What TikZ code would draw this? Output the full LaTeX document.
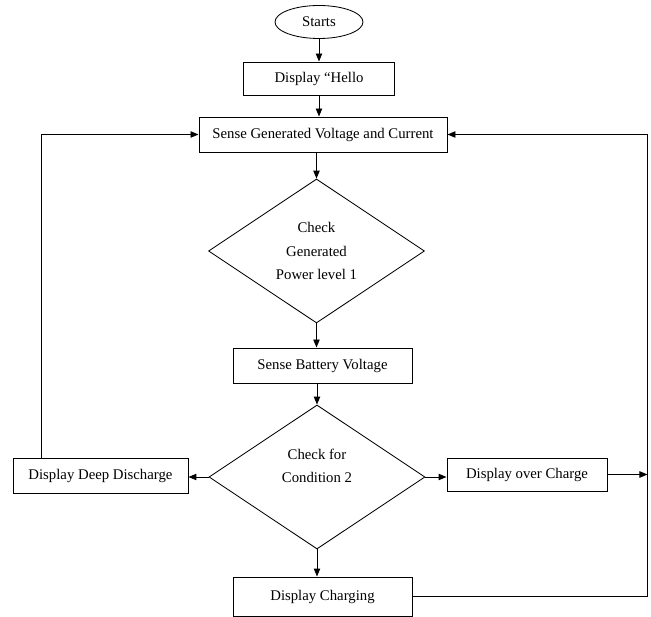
\documentclass[tikz,border=0pt]{standalone}
\usepackage{fontspec}
\setmainfont{Liberation Serif}
\usetikzlibrary{shapes.geometric, positioning, arrows.meta}

\begin{document}
\begin{tikzpicture}[node distance=1.4cm, on grid, >={Triangle[length=2mm,width=1.6mm]},
    every node/.style={font=\fontsize{10.5}{16.5}\selectfont},
    proc/.style={draw, line width=0.7pt, rectangle, minimum height=0.875cm, inner sep=2pt},
    decision/.style={draw, line width=0.6pt, diamond, aspect=1.5, minimum width=5.4cm, minimum height=3.6cm, align=center, inner sep=0pt},
    terminal/.style={draw, line width=0.6pt, ellipse, minimum width=2.2cm, minimum height=0.825cm, inner sep=0pt},
    flow/.style={->, line width=0.7pt}]
      \node[terminal] (start) {Starts};
      \node[proc, minimum width=3.775cm, minimum height=0.825cm, below=1.4125cm of start] (hello) {Display “Hello};
      \node[proc, minimum width=6.2cm, below=1.4cm of hello, xshift=0.1cm] (sense) {Sense Generated Voltage and Current};
      \node[decision, below=2.9125cm of sense, xshift=-0.1625cm] (check1) {Check\\Generated\\Power level 1};
      \node[proc, minimum width=4.475cm, below=2.8625cm of check1, xshift=0.15cm] (battery) {Sense Battery Voltage};
      \node[decision, below=2.7875cm of battery, xshift=-0.1375cm] (check2) {Check for\\Condition 2\\\mbox{}};
      \node[proc, minimum width=4.375cm, left=5.4125cm of check2, yshift=0.0375cm] (deep) {Display Deep Discharge};
      \node[proc, minimum width=4cm, minimum height=0.825cm, right=5.25cm of check2, yshift=0.0625cm] (over) {Display over Charge};
      \node[proc, minimum width=4.475cm, minimum height=0.975cm, below=2.9875cm of check2, xshift=0.1375cm] (charging) {Display Charging};

      % corners of the two feedback loops
      \coordinate[left=3.925cm of sense.west] (backL);
      \coordinate[right=5cm of sense.east] (backR);

      \draw[flow] (start) -- (hello);
      \draw[flow] (hello) -- (hello |- sense.north);
      \draw[flow] (sense.south -| check1.north) -- (check1);
      \draw[flow] (check1) -- (check1 |- battery.north);
      \draw[flow] (battery.south -| check2.north) -- (check2);
      \draw[flow] (check2) -- (check2 |- charging.north);
      \draw[flow] (check2) -- (check2 -| deep.east);
      \draw[flow] (check2) -- (check2 -| over.west);
      \draw[flow] (deep.north -| backL) -- (backL) -- (sense);
      \draw[flow] (over) -- (over -| backR);
      \draw[flow] (charging) -- (charging -| backR) -- (backR) -- (sense);

      \useasboundingbox (-7.975,0.55) rectangle (8.3,-14.875);
    \end{tikzpicture}
\end{document}
